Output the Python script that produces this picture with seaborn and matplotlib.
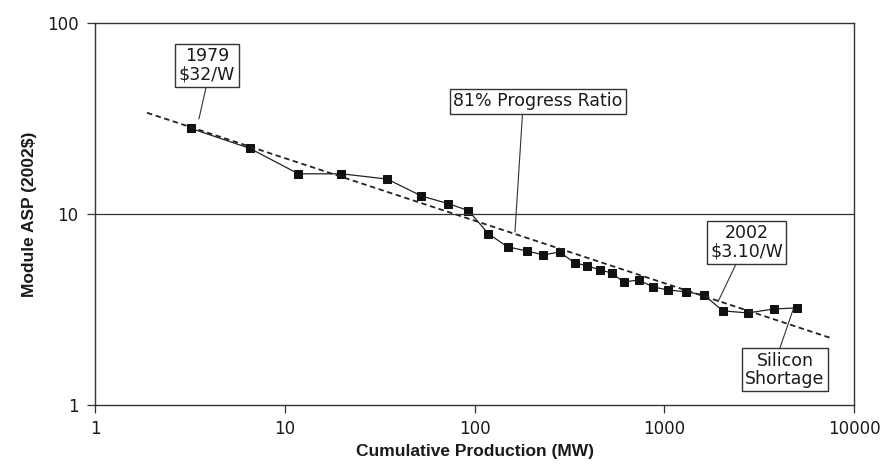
import matplotlib
matplotlib.use("Agg")
import matplotlib.pyplot as plt
import seaborn as sns
import pandas as pd

# cumulative production (MW) and module ASP (2002$/W)
production = [3.2, 6.55, 11.8, 19.9, 34.7, 52.5, 72.9, 92.9, 118.5, 149.3, 188, 231,
              281, 337, 394, 457, 528, 611, 733, 869, 1043, 1298, 1616, 2034,
              2757, 3779, 5003]
price = [28.0, 22.0, 16.2, 16.2, 15.2, 12.4, 11.3, 10.4, 7.86, 6.72, 6.40, 6.10,
         6.32, 5.54, 5.35, 5.09, 4.91, 4.40, 4.51, 4.15, 4.00, 3.91, 3.77, 3.11,
         3.03, 3.18, 3.22]

# 81% progress ratio trend line end points
fit_x = [1.88, 7557]
fit_y = [33.8, 2.24]

x_ticks = [1, 10, 100, 1000, 10000]
y_ticks = [1, 10, 100]

# (label, point, text centre, where the leader leaves the box)
notes = [
    ("1979\n$32/W", (3.53, 31.4), (3.89, 59.8), (0.5, 0)),
    ("81% Progress Ratio", (163.4, 8.05), (216, 38.8), (0.41, 0)),
    ("2002\n$3.10/W", (1920, 3.47), (2713, 7.09), (0.38, 0)),
    ("Silicon\nShortage", (4772, 3.15), (4327, 1.528), (0.42, 1)),
]

sns.set_style("white")
plt.rcParams['font.family'] = ['DejaVu Sans']

df = pd.DataFrame({"production": production, "price": price})
fit = pd.DataFrame({"x": fit_x, "y": fit_y})

fig = plt.figure(figsize=(8.85, 4.65), dpi=100)
ax = fig.add_axes([95 / 885, 1 - 405 / 465, 759 / 885, 382.3 / 465])

sns.lineplot(data=df, x="production", y="price", ax=ax, color="#222222",
             linewidth=0.9, marker="s", markersize=6, markeredgecolor="#111111",
             markerfacecolor="#111111")
sns.lineplot(data=fit, x="x", y="y", ax=ax, color="#222222", linewidth=1.3,
             linestyle=(0, (3, 2)))

ax.set_xscale("log")
ax.set_yscale("log")
ax.set_xlim(1, 10000)
ax.set_ylim(1, 100)
ax.set_xticks(x_ticks)
ax.set_xticklabels([str(t) for t in x_ticks])
ax.set_yticks(y_ticks)
ax.set_yticklabels([str(t) for t in y_ticks])
ax.minorticks_off()
ax.tick_params(axis="both", direction="out", length=6, width=0.9, color="#333333",
               labelsize=12, labelcolor="#1a1a1a", pad=6, bottom=True, left=True)
ax.tick_params(axis="x", pad=5)
ax.axhline(10, color="#333333", linewidth=0.9)

for side in ax.spines.values():
    side.set_color("#333333")
    side.set_linewidth(1.0)

ax.set_xlabel("Cumulative Production (MW)", fontsize=12.5, fontweight="bold",
              family="Liberation Sans", color="#1a1a1a", labelpad=4)
ax.set_ylabel("Module ASP (2002$)", fontsize=12.5, fontweight="bold",
              family="Liberation Sans", color="#1a1a1a", labelpad=7)

for label, point, pos, rel in notes:
    ax.annotate(label, xy=point, xytext=pos, ha="center", va="center",
                fontsize=12.5, linespacing=1.0, color="#1a1a1a",
                bbox=dict(boxstyle="square,pad=0.2", fc="white", ec="#333333", lw=1.0),
                arrowprops=dict(arrowstyle="-", color="#333333", lw=0.8,
                                relpos=rel, shrinkA=0, shrinkB=0))

fig.savefig("out.png", dpi=100)
